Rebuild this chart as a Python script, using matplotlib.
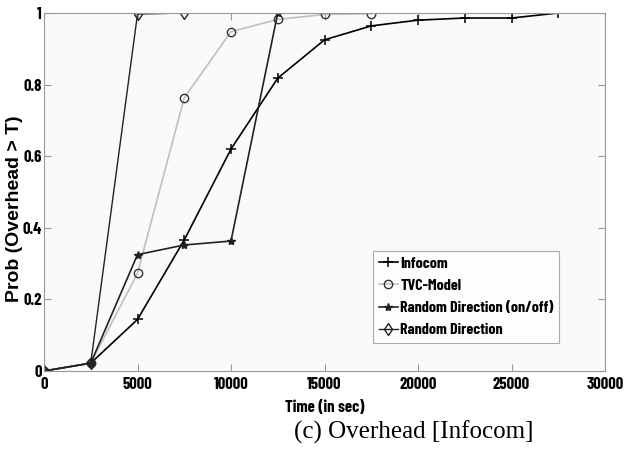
import matplotlib
matplotlib.use('Agg')
import matplotlib.pyplot as plt

# time axis (sec) and overhead CDF values
t_infocom = [0, 2500, 5000, 7500, 10000, 12500, 15000, 17500, 20000, 22500, 25000, 27500]
p_infocom = [0.0, 0.022, 0.144, 0.366, 0.62, 0.818, 0.925, 0.964, 0.98, 0.986, 0.986, 1.0]

t_tvc = [0, 2500, 5000, 7500, 10000, 12500, 15000, 17500]
p_tvc = [0.0, 0.022, 0.273, 0.763, 0.948, 0.982, 0.996, 0.998]

t_rdonoff = [0, 2500, 5000, 7500, 10000, 12500]
p_rdonoff = [0.0, 0.022, 0.325, 0.352, 0.363, 1.0]

t_rd = [0, 2500, 5000, 7500]
p_rd = [0.0, 0.022, 0.997, 1.0]

xticks = [0, 5000, 10000, 15000, 20000, 25000, 30000]
yticks = [0, 0.2, 0.4, 0.6, 0.8, 1]
ytick_labels = ['0', '0.2', '0.4', '0.6', '0.8', '1']

# narrow bold sans for ticks/legend, falling back to the regular width ones
narrow = ['Barlow Condensed', 'Liberation Sans Narrow', 'Roboto Condensed', 'Liberation Sans', 'DejaVu Sans']
plt.rcParams['font.family'] = narrow
plt.rcParams['font.weight'] = 'bold'

fig = plt.figure(figsize=(6.24, 4.49), dpi=100)
ax = fig.add_axes([44 / 624, 1 - 371 / 449, 561 / 624, 358 / 449])
ax.set_facecolor('#fafafa')

ax.plot(t_infocom, p_infocom, color='black', lw=1.2, marker='+', ms=7, mew=1.1, label='Infocom')
ax.plot(t_tvc, p_tvc, color='#c0c0c0', lw=1.2, marker='o', ms=6, mfc='none', mec='#333333', mew=1.0, label='TVC-Model')
ax.plot(t_rdonoff, p_rdonoff, color='#222222', lw=1.2, marker='*', ms=6, mew=1.0, label='Random Direction (on/off)')
ax.plot(t_rd, p_rd, color='#222222', lw=1.0, marker='d', ms=6, mfc='none', mec='#222222', mew=1.0, label='Random Direction')

ax.set_xlim(0, 30000)
ax.set_ylim(0, 1)
ax.set_xticks(xticks)
ax.set_xticklabels([str(x) for x in xticks])
ax.set_yticks(yticks)
ax.set_yticklabels(ytick_labels)
ax.tick_params(direction='in', length=5, width=0.8, color='#999999', top=True, right=True,
               labelsize=12)
ax.tick_params(axis='x', pad=4)
ax.tick_params(axis='y', pad=1.5)
for sp in ax.spines.values():
    sp.set_color('#999999')
    sp.set_linewidth(0.8)

ax.set_xlabel('Time (in sec)', fontsize=12, fontweight='bold')
ax.xaxis.label.set_verticalalignment('center')
ax.xaxis.set_label_coords((325 - 44) / 561, (371 - 407) / 358)

ax.set_ylabel('Prob (Overhead > T)', fontsize=14, fontweight='bold',
              family=['Liberation Sans', 'DejaVu Sans'])
ax.yaxis.label.set_verticalalignment('center')
ax.yaxis.set_label_coords((15 - 44) / 561, (371 - 209) / 358)

leg = ax.legend(loc='lower left', bbox_to_anchor=((373 - 44) / 561, (371 - 343) / 358),
                fontsize=11.5, frameon=True, fancybox=False, handlelength=1.2,
                handletextpad=0.15, borderpad=0.35, labelspacing=0.5, borderaxespad=0)
leg.get_frame().set_edgecolor('#999999')
leg.get_frame().set_facecolor('white')
leg.get_frame().set_linewidth(0.8)

fig.text(414 / 624, 1 - 432 / 449, '(c) Overhead [Infocom]', ha='center', va='center',
         fontsize=18, fontweight='normal', family=['Liberation Serif', 'DejaVu Serif'])

fig.savefig('out.png', dpi=100, facecolor='white')
